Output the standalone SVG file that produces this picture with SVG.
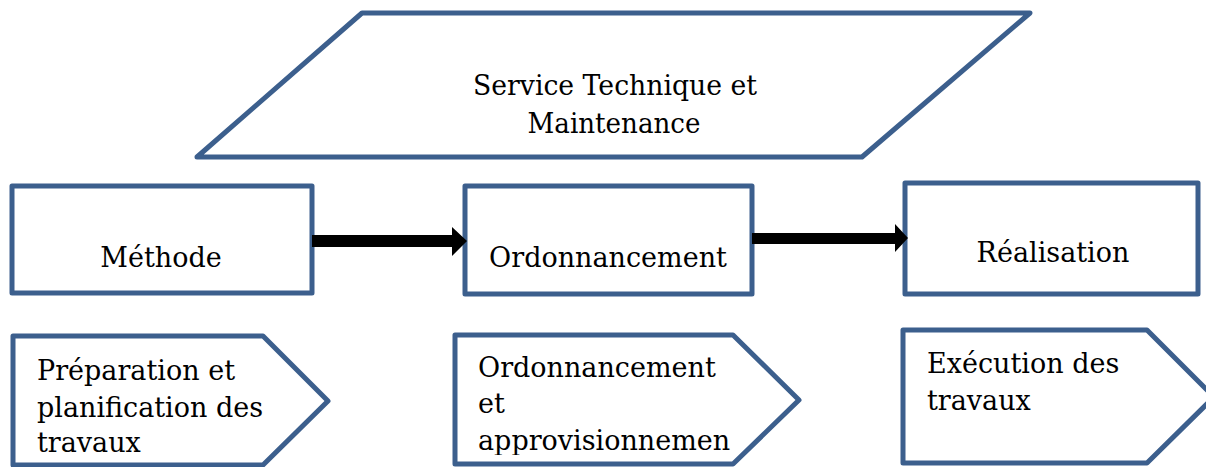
<svg xmlns="http://www.w3.org/2000/svg" width="1206" height="467" viewBox="0 0 1206 467">
<style>
.shape{fill:#fff;stroke:#3C5F8D;stroke-width:5;stroke-linejoin:round}
.t{font-family:"DejaVu Serif","Liberation Serif",serif;font-size:27px;fill:#000}
.arrow{fill:#000}
</style>
<defs>
<clipPath id="clip2"><rect x="455" y="335" width="300" height="120"/></clipPath>
</defs>
<rect width="1206" height="467" fill="#fff"/>
<g id="service">
<polygon class="shape" points="362,13 1030,13 862,157 197,157"/>
<text class="t" x="615" y="95" text-anchor="middle" font-size="31" textLength="284" lengthAdjust="spacingAndGlyphs">Service Technique et</text>
<text class="t" x="614" y="133" text-anchor="middle" font-size="31" textLength="173" lengthAdjust="spacingAndGlyphs">Maintenance</text>
</g>
<g id="methode">
<rect class="shape" x="12" y="186" width="300" height="107"/>
<text class="t" x="161" y="267" text-anchor="middle">Méthode</text>
</g>
<g id="ordonnancement">
<rect class="shape" x="465" y="186" width="287" height="108"/>
<text class="t" x="608" y="267" text-anchor="middle">Ordonnancement</text>
</g>
<g id="realisation">
<rect class="shape" x="905" y="183" width="293" height="111"/>
<text class="t" x="1053" y="262" text-anchor="middle">Réalisation</text>
</g>
<g id="connectors">
<polygon class="arrow" points="312,235 452,235 452,227 467,241 452,256 452,247 312,247"/>
<polygon class="arrow" points="752,233 895,233 895,224 908,238 895,252 895,244 752,244"/>
</g>
<g id="preparation">
<polygon class="shape" points="13,336 263,336 328,401 263,465 13,465"/>
<text class="t" x="37" y="380">Préparation et</text>
<text class="t" x="37" y="417">planification des</text>
<text class="t" x="37" y="452">travaux</text>
</g>
<g id="approvisionnement">
<polygon class="shape" points="455,335 733,335 799,400 733,464 455,464"/>
<g clip-path="url(#clip2)">
<text class="t" x="478" y="377">Ordonnancement</text>
<text class="t" x="478" y="413">et</text>
<text class="t" x="478" y="450">approvisionnemen</text>
</g>
</g>
<g id="execution">
<polygon class="shape" points="903,330 1147,330 1214,397 1147,463 903,463"/>
<text class="t" x="927" y="373">Exécution des</text>
<text class="t" x="927" y="410">travaux</text>
</g>
</svg>
